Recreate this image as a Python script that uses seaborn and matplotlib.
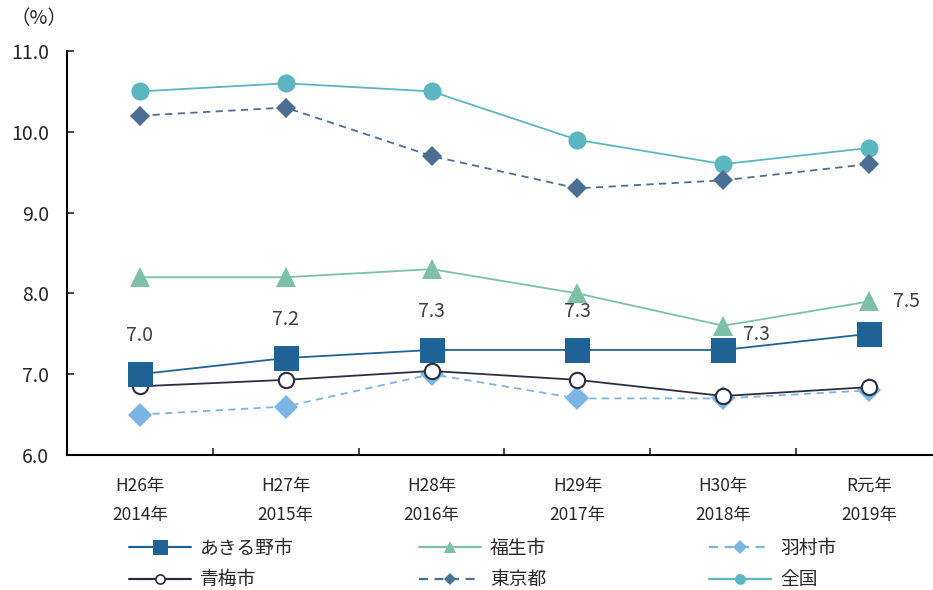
import numpy as np
import pandas as pd
import matplotlib
matplotlib.use("Agg")
import matplotlib.pyplot as plt
import seaborn as sns
from matplotlib.lines import Line2D

years = ["H26年\n2014年", "H27年\n2015年", "H28年\n2016年", "H29年\n2017年", "H30年\n2018年", "R元年\n2019年"]
akiruno = [7.0, 7.2, 7.3, 7.3, 7.3, 7.5]
fussa = [8.2, 8.2, 8.3, 8.0, 7.6, 7.9]
hamura = [6.5, 6.6, 7.0, 6.7, 6.7, 6.8]
ome = [6.85, 6.93, 7.04, 6.93, 6.73, 6.84]
tokyo = [10.2, 10.3, 9.7, 9.3, 9.4, 9.6]
zenkoku = [10.5, 10.6, 10.5, 9.9, 9.6, 9.8]
akiruno_labels = ["7.0", "7.2", "7.3", "7.3", "7.3", "7.5"]

sns.set_style("white")
plt.rcParams["font.family"] = ["Noto Sans CJK JP", "DejaVu Sans"]

fig = plt.figure(figsize=(9.33, 5.9), dpi=100)
ax = fig.add_axes([67 / 933, 135 / 590, 875 / 933, 404 / 590])

x = np.arange(len(years))
# name, values, color, marker, size, linestyle, face
series = [
    ("全国", zenkoku, "#5bb6c1", "o", 13, "-", None),
    ("東京都", tokyo, "#4a6f92", "D", 10, (0, (4, 3)), None),
    ("福生市", fussa, "#7bc0a7", "^", 14, "-", None),
    ("羽村市", hamura, "#7ab5e3", "D", 12, (0, (4, 3)), None),
    ("青梅市", ome, "#2d2d42", "o", 11, "-", "white"),
    ("あきる野市", akiruno, "#1f6396", "s", 18, "-", None),
]
handles = {}
for name, vals, col, mk, ms, ls, face in series:
    df = pd.DataFrame({"x": x, "y": vals})
    sns.lineplot(data=df, x="x", y="y", ax=ax, color=col, lw=1.3, linestyle=ls,
                 marker=mk, markersize=ms, markerfacecolor=face if face else col,
                 markeredgecolor=col, markeredgewidth=1.5 if face else 0)
    handles[name] = Line2D([], [], color=col, lw=1.6, linestyle=ls, marker=mk,
                           markersize=ms * 0.6, markerfacecolor=face if face else col,
                           markeredgecolor=col, markeredgewidth=1.2 if face else 0)

offsets = [(0, 28), (0, 28), (0, 28), (0, 28), (24, 11), (27, 23)]
for i, (v, lab) in enumerate(zip(akiruno, akiruno_labels)):
    ax.annotate(lab, (x[i], v), xytext=offsets[i], textcoords="offset points",
                ha="center", va="center", fontsize=14, color="#404040")

ax.set_xlim(-0.5, 5.5)
ax.set_ylim(6.0, 11.0)
ax.set_yticks(np.arange(6.0, 11.01, 1.0))
ax.set_yticklabels([f"{v:.1f}" for v in np.arange(6.0, 11.01, 1.0)], fontsize=14)
ax.set_xticks(x)
ax.set_xticklabels(years, fontsize=12.5, linespacing=1.75)
ax.set_xticks(np.arange(-0.5, 5.6, 1.0), minor=True)
ax.tick_params(axis="x", which="major", length=0, pad=16)
ax.tick_params(axis="x", which="minor", direction="in", length=5, width=1.2, bottom=True)
ax.tick_params(axis="y", direction="in", length=5, width=1.2, left=True, pad=13)
ax.set_xlabel("")
ax.set_ylabel("")
for s in ["top", "right"]:
    ax.spines[s].set_visible(False)
for s in ["left", "bottom"]:
    ax.spines[s].set_color("black")
    ax.spines[s].set_linewidth(1.5)

fig.text(10 / 933, 1 - 19 / 590, "（%）", fontsize=14, va="center", ha="left")

columns = [["あきる野市", "青梅市"], ["福生市", "東京都"], ["羽村市", "全国"]]
col_x = [112, 402, 692]
for cx, names in zip(col_x, columns):
    leg = fig.legend([handles[n] for n in names], names, loc="lower left",
                     bbox_to_anchor=(cx / 933, -0.029), ncol=1, frameon=False,
                     fontsize=13.5, handlelength=3.3, handletextpad=0.5,
                     labelspacing=0.55)

fig.savefig("out.png", dpi=100)
